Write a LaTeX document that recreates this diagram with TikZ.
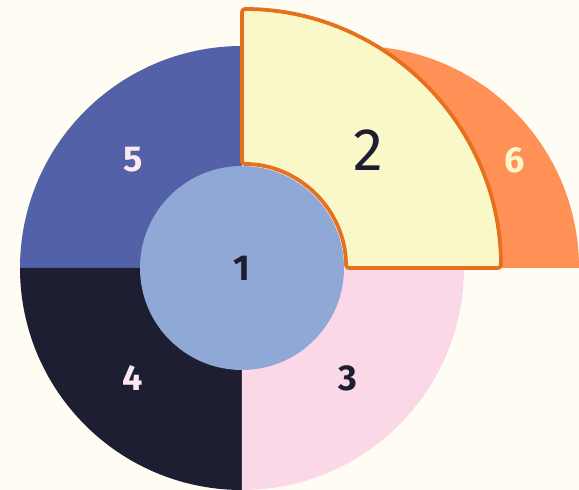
\documentclass[tikz,border=0pt]{standalone}
\usepackage{fontspec}
\setmainfont{Fira Sans}
\definecolor{bg}{HTML}{FFFCF3}
\definecolor{cfive}{HTML}{5361A8}
\definecolor{cfour}{HTML}{1E1E32}
\definecolor{cthree}{HTML}{FAD8E8}
\definecolor{cone}{HTML}{8FA8D6}
\definecolor{csix}{HTML}{FF9157}
\definecolor{ctwo}{HTML}{FAF7C8}
\definecolor{ctwoline}{HTML}{E6701E}
\definecolor{lightlab}{HTML}{FBE8F0}
\tikzset{
  lab/.style={font=\fontsize{36}{36}\selectfont\bfseries, inner sep=0pt},
  bigLab/.style={font=\fontsize{60}{60}\selectfont, inner sep=0pt}
}
\begin{document}
\begin{tikzpicture}[x=1pt,y=1pt]
\fill[bg] (-242,-222) rectangle (337,268);
\useasboundingbox (-242,-222) rectangle (337,268);
% sector 6 (shifted outer quadrant)
\fill[csix] (115,0) -- (337,0) arc[start angle=0,end angle=90,radius=222] -- cycle;
% outer ring quadrants
\fill[cfive] (0,0) -- (0,222) arc[start angle=90,end angle=180,radius=222] -- cycle;
\fill[cfour] (0,0) -- (-222,0) arc[start angle=180,end angle=270,radius=222] -- cycle;
\fill[cthree] (0,0) -- (0,-222) arc[start angle=270,end angle=360,radius=222] -- cycle;
% inner circle
\fill[cone] (0,0) circle[radius=102];
% sector 2
\draw[fill=ctwo, draw=ctwoline, line width=3.8pt, rounded corners=3pt, line join=round]
  (0,259) arc[start angle=90,end angle=0,radius=259] -- (104,0)
  arc[start angle=0,end angle=90,radius=104] -- cycle;
% labels
\node[lab, text=cfour] (l1) at (0,0) {1};
\node[bigLab, text=cfour] (l2) at (126,118) {2};
\node[lab, text=cfour] (l3) at (106,-110) {3};
\node[lab, text=lightlab] (l4) at (-109,-110) {4};
\node[lab, text=lightlab] (l5) at (-109,108) {5};
\node[lab, text=ctwo] (l6) at (273,108) {6};
\end{tikzpicture}
\end{document}
